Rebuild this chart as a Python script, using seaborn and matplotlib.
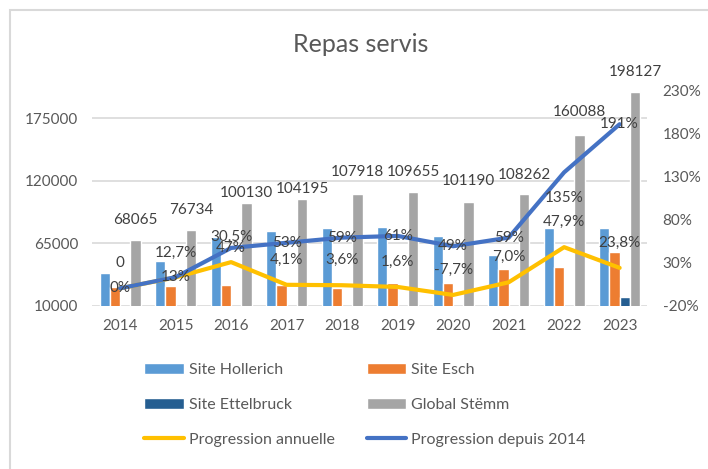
import numpy as np
import pandas as pd
import matplotlib
matplotlib.use("Agg")
import matplotlib.pyplot as plt
from matplotlib.patches import Rectangle
import seaborn as sns

annees = ["2014", "2015", "2016", "2017", "2018", "2019", "2020", "2021", "2022", "2023"]
hollerich = [39000, 49000, 70000, 75500, 78500, 79300, 71000, 54500, 78400, 78000]
esch = [26000, 27000, 28200, 28000, 25700, 30000, 30000, 42000, 43700, 57000]
ettelbruck = [0, 0, 0, 0, 0, 0, 0, 0, 8000, 17300]
global_stemm = [68065, 76734, 100130, 104195, 107918, 109655, 101190, 108262, 160088, 198127]
prog_annuelle = [0, 12.7, 30.5, 4.1, 3.6, 1.6, -7.7, 7.0, 47.9, 23.8]
prog_2014 = [0, 13, 47, 53, 59, 61, 49, 59, 135, 191]

sites = ["Site Hollerich", "Site Esch", "Site Ettelbruck", "Global Stëmm"]
couleurs = ["#5B9BD5", "#ED7D31", "#255E91", "#A5A5A5"]

df = pd.DataFrame({
    "Année": annees * 4,
    "Repas": hollerich + esch + ettelbruck + global_stemm,
    "Site": np.repeat(sites, len(annees)),
})

sns.set_theme(style="white")
plt.rcParams["font.family"] = ["Lato", "DejaVu Sans"]
gris = "#595959"

fig = plt.figure(figsize=(7.08, 4.69), dpi=100)
ax = fig.add_axes([0.1304, 0.3486, 0.784, 0.458])

sns.barplot(data=df, x="Année", y="Repas", hue="Site", palette=couleurs,
            width=0.74, saturation=1, ax=ax)
leg = ax.get_legend()
bar_handles = list(leg.legend_handles)
bar_labels = [t.get_text() for t in leg.get_texts()]
leg.remove()

ax.set_ylim(10000, 199200)
ax.set_yticks([10000, 65000, 120000, 175000])
ax.grid(axis="y", color="#d9d9d9", lw=1.2)
ax.set_axisbelow(True)
ax.set_xlabel("")
ax.set_ylabel("")
for s in ax.spines.values():
    s.set_visible(False)
ax.tick_params(axis="y", labelsize=11, colors=gris, pad=10, length=0)
ax.tick_params(axis="x", labelsize=11, colors=gris, pad=10, length=0)

# étiquettes des barres Global Stëmm
x = np.arange(len(annees))
decal_global = [20, 20, 10, 10, 22, 20, 21, 19, 23, 20]
for i, v in enumerate(global_stemm):
    ax.annotate(str(v), (x[i] + 0.277, v), xytext=(0, decal_global[i] * 0.72),
                textcoords="offset points", ha="center", va="center",
                fontsize=11, color="#404040")

ax2 = ax.twinx()
sns.lineplot(x=x, y=prog_annuelle, color="#FFC000", lw=3, ax=ax2,
             label="Progression annuelle")
sns.lineplot(x=x, y=prog_2014, color="#4472C4", lw=3, ax=ax2,
             label="Progression depuis 2014")
line_handles, line_labels = ax2.get_legend_handles_labels()
if ax2.get_legend() is not None:
    ax2.get_legend().remove()

ax2.set_ylim(-20, 230)
ax2.set_yticks([-20, 30, 80, 130, 180, 230])
ax2.set_yticklabels([f"{t}%" for t in [-20, 30, 80, 130, 180, 230]])
for s in ax2.spines.values():
    s.set_visible(False)
ax2.tick_params(axis="y", labelsize=11, colors=gris, pad=11, length=0)
ax2.grid(False)
ax.set_xlim(-0.5, len(annees) - 0.5)

for i, v in enumerate(prog_annuelle):
    txt = "0" if i == 0 else f"{v:.1f}%".replace(".", ",")
    ax2.annotate(txt, (x[i], v), xytext=(0, 25 * 0.72), textcoords="offset points",
                 ha="center", va="center", fontsize=11, color="#404040")

decal_2014 = [0, 0, 0, 0, 0, 0, 0, 0, -26, 0]
for i, v in enumerate(prog_2014):
    ax2.annotate(f"{v}%", (x[i], v), xytext=(0, decal_2014[i] * 0.72),
                 textcoords="offset points", ha="center", va="center",
                 fontsize=11, color="#404040")

fig.suptitle("Repas servis", x=0.51, y=0.93, fontsize=18, color=gris)

# légende sur deux colonnes, ordre ligne par ligne
handles = [bar_handles[0], bar_handles[2], line_handles[0],
           bar_handles[1], bar_handles[3], line_handles[1]]
labels = [bar_labels[0], bar_labels[2], line_labels[0],
          bar_labels[1], bar_labels[3], line_labels[1]]
fig.legend(handles, labels, ncol=2, loc="upper left",
           bbox_to_anchor=(144 / 708, 1 - 363 / 469), frameon=False,
           fontsize=11.5, labelcolor=gris, handlelength=2.5, handleheight=0.7,
           handletextpad=0.3, labelspacing=1.3, columnspacing=2.0,
           borderpad=0, borderaxespad=0)

fig.patches.append(Rectangle((10 / 708, -0.1), 1.2, 1.1 - 10 / 469,
                             transform=fig.transFigure, fill=False,
                             edgecolor="#d9d9d9", lw=1.5))

fig.savefig("out.png", dpi=100)
